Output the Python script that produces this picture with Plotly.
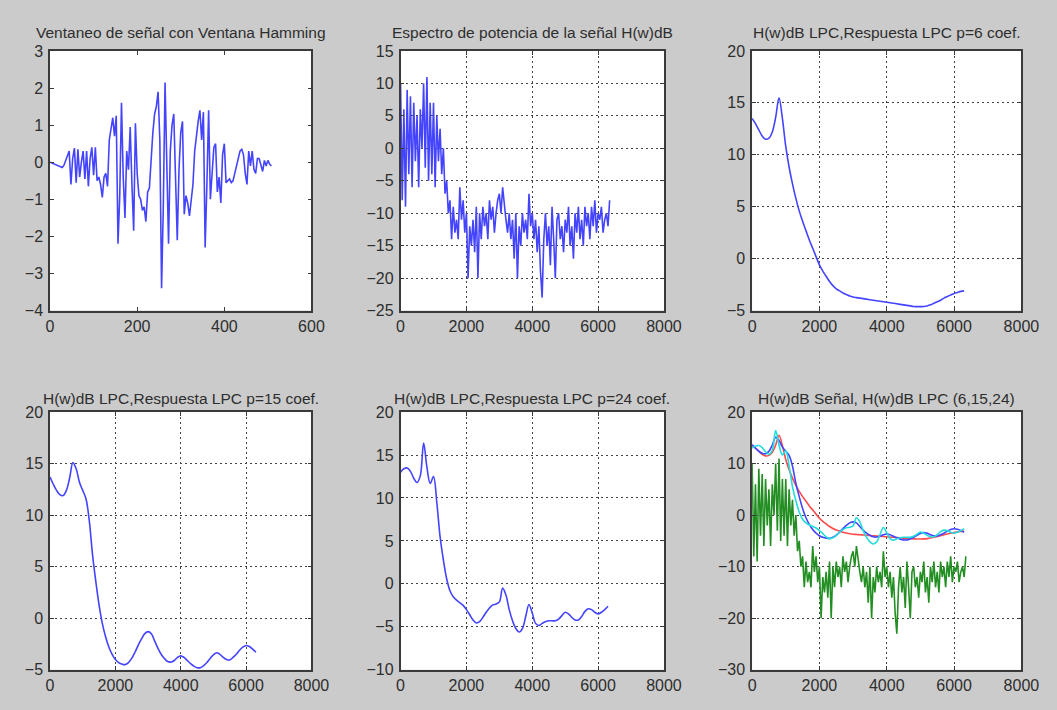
import plotly.graph_objects as go

# ---------------- data ----------------
# windowed signal (sample index step 4)
signal_step = 4
signal_vals = [
    0.0, -0.02, -0.03, -0.05, -0.08, -0.1, -0.12, -0.14, -0.08, 0.05, 0.2, 0.3, -0.6, 0.1, 0.38, -0.55,
    0.35, -0.4, 0.0, 0.3, -0.45, 0.3, -0.65, 0.1, 0.4, -0.35, 0.4, -0.5, -0.4, -0.6, -0.95, -0.4,
    -0.3, -0.65, 0.6, 0.9, 1.2, 0.7, 1.25, -2.2, -0.9, 1.6, -0.4, -1.5, 0.3, -0.2, 0.95, -0.6,
    -1.85, 1.05, -0.3, -0.9, -1.0, -1.3, -1.2, -1.6, -0.8, -0.7, 0.2, 0.8, 1.3, 1.5, 1.9, 0.6,
    -3.4, -1.2, 2.15, -0.5, -2.2, 0.3, 1.0, 1.3, -0.4, -2.1, -0.2, 0.8, 1.1, -1.4, -0.9, -1.1,
    -1.45, -1.0, -0.6, 0.3, 0.8, 1.1, 1.4, 0.6, 1.35, -2.3, -0.6, 1.4, -1.0, -0.3, 0.4, 0.5,
    -0.8, -0.4, -1.1, 0.2, 0.5, -0.55, -0.5, -0.45, -0.55, -0.5, -0.3, -0.1, 0.1, 0.3, 0.35, 0.2,
    -0.3, -0.6, 0.3, -0.1, 0.3, -0.2, -0.3, 0.1, 0.1, -0.1, -0.25, 0.05, -0.1, 0.05, -0.05, -0.1,
]

# power spectrum in dB (frequency step 50 Hz)
spec_step = 50
spectrum_db = [
    10, -8, 6, -9, 9, -4, 8, -6, 7, -2, 5, -6, 6, 0, 10, -3,
    11, -5, 7, -4, 7, -6, 5, -2, 3, -4, 0, -7, -5, -10, -8, -14,
    -9, -13, -11, -14, -6, -11, -8, -13, -10, -20, -12, -15, -11, -16, -9, -20,
    -10, -14, -9, -12, -10, -14, -8, -11, -9, -13, -10, -8, -7, -10, -6, -9,
    -11, -13, -10, -14, -11, -17, -10, -20, -12, -15, -10, -13, -11, -14, -7, -12,
    -10, -14, -11, -16, -12, -19, -23, -14, -10, -15, -12, -18, -9, -14, -20, -11,
    -10, -14, -12, -16, -11, -13, -9, -15, -12, -17, -10, -13, -9, -14, -11, -15,
    -9, -12, -10, -14, -9, -12, -8, -13, -10, -11, -9, -13, -11, -10, -12, -8,
]

# LPC responses in dB (frequency step 100 Hz)
lpc_step = 100
lpc_p6 = [
    13.5, 13.0, 12.4, 11.8, 11.5, 11.6, 12.2, 13.6, 15.5, 13.5, 10.8, 8.8, 7.2, 5.8, 4.6, 3.6,
    2.7, 1.8, 1.0, 0.2, -0.6, -1.2, -1.7, -2.2, -2.6, -2.9, -3.1, -3.3, -3.45, -3.6, -3.7, -3.75,
    -3.8, -3.85, -3.9, -3.95, -4.0, -4.05, -4.1, -4.15, -4.2, -4.25, -4.3, -4.35, -4.4, -4.45, -4.5, -4.55,
    -4.6, -4.62, -4.62, -4.6, -4.55, -4.45, -4.3, -4.15, -4.0, -3.8, -3.65, -3.5, -3.35, -3.25, -3.15, -3.1,
]
lpc_p15 = [
    13.7, 13.0, 12.4, 12.0, 11.9, 12.4, 13.6, 15.1, 14.5, 13.2, 12.4, 11.6, 9.5, 6.2, 3.6, 1.3,
    -0.5, -1.8, -2.8, -3.5, -4.0, -4.3, -4.45, -4.5, -4.3, -3.9, -3.3, -2.6, -2.0, -1.5, -1.3, -1.5,
    -2.2, -2.9, -3.5, -3.9, -4.2, -4.25, -4.1, -3.8, -3.65, -3.8, -4.1, -4.4, -4.65, -4.8, -4.8, -4.6,
    -4.3, -3.9, -3.55, -3.35, -3.5, -3.8, -4.0, -4.05, -3.8, -3.5, -3.1, -2.8, -2.65, -2.75, -3.0, -3.3,
]
lpc_p24 = [
    13.0, 13.4, 13.5, 13.1, 12.3, 11.8, 12.6, 16.4, 13.6, 11.7, 12.5, 9.5, 5.5, 2.8, 0.6, -0.8,
    -1.5, -1.9, -2.2, -2.5, -3.0, -3.6, -4.2, -4.55, -4.4, -3.9, -3.3, -2.8, -2.45, -2.35, -2.1, -0.5,
    -1.3, -3.0, -4.3, -5.2, -5.6, -5.2, -3.8, -2.4, -3.4, -4.6, -4.85, -4.6, -4.4, -4.3, -4.3, -4.3,
    -4.1, -3.7, -3.3, -3.5, -3.9, -4.2, -4.2, -3.8, -3.2, -2.9, -3.0, -3.3, -3.5, -3.3, -3.0, -2.6,
]

titles = [
    "Ventaneo de señal con Ventana Hamming",
    "Espectro de potencia de la señal H(w)dB",
    "H(w)dB LPC,Respuesta LPC p=6 coef.",
    "H(w)dB LPC,Respuesta LPC p=15 coef.",
    "H(w)dB LPC,Respuesta LPC p=24 coef.",
    "H(w)dB Señal, H(w)dB LPC (6,15,24)",
]

signal_x = [i * signal_step for i in range(len(signal_vals))]
spec_x = [i * spec_step for i in range(len(spectrum_db))]
lpc_x = [i * lpc_step for i in range(len(lpc_p6))]

# ---------------- layout geometry ----------------
W, H = 1057, 710
cols_px = [(47, 314), (405, 674), (764, 1039)]
rows_px = [(44, 310), (414, 678)]
title_y_px = [25, 400]

BLUE = "#4444ff"
TXT = "#2e2e2e"
FONT = "Liberation Sans, Arial, sans-serif"

fig = go.Figure()

def add(trace, k):
    sfx = "" if k == 1 else str(k)
    trace.update(xaxis="x" + sfx, yaxis="y" + sfx)
    fig.add_trace(trace)

lw = 1.6
add(go.Scatter(x=signal_x, y=signal_vals, mode="lines", line=dict(color=BLUE, width=lw)), 1)
add(go.Scatter(x=spec_x, y=spectrum_db, mode="lines", line=dict(color=BLUE, width=lw)), 2)
add(go.Scatter(x=lpc_x, y=lpc_p6, mode="lines", line=dict(color=BLUE, width=lw, shape="spline")), 3)
add(go.Scatter(x=lpc_x, y=lpc_p15, mode="lines", line=dict(color=BLUE, width=lw, shape="spline")), 4)
add(go.Scatter(x=lpc_x, y=lpc_p24, mode="lines", line=dict(color=BLUE, width=lw, shape="spline")), 5)
add(go.Scatter(x=spec_x, y=spectrum_db, mode="lines", line=dict(color="#238f23", width=lw)), 6)
add(go.Scatter(x=lpc_x, y=lpc_p6, mode="lines", line=dict(color="#ff4a4a", width=lw, shape="spline")), 6)
add(go.Scatter(x=lpc_x, y=lpc_p15, mode="lines", line=dict(color=BLUE, width=lw, shape="spline")), 6)
add(go.Scatter(x=lpc_x, y=lpc_p24, mode="lines", line=dict(color="#22dcdc", width=lw, shape="spline")), 6)

xranges = [(0, 600, 200), (0, 8000, 2000), (0, 8000, 2000), (0, 8000, 2000), (0, 8000, 2000), (0, 8000, 2000)]
yranges = [(-4, 3, 1), (-25, 15, 5), (-5, 20, 5), (-5, 20, 5), (-10, 20, 5), (-30, 20, 10)]
grid_on = [False, True, True, True, True, True]

layout = dict(
    width=W, height=H, margin=dict(l=0, r=0, t=0, b=0),
    paper_bgcolor="#cbcbcb", plot_bgcolor="white", showlegend=False,
    font=dict(family=FONT, color=TXT),
)
annotations = []
for k in range(6):
    r, c = divmod(k, 3)
    x0, x1 = cols_px[c]
    y0, y1 = rows_px[r]
    sfx = "" if k == 0 else str(k + 1)
    common = dict(
        showline=True, linecolor="#3a3a3a", linewidth=1.5, mirror="ticks",
        ticks="inside", ticklen=4, tickcolor="#3a3a3a", tickwidth=1,
        tickfont=dict(size=16, family=FONT, color=TXT),
        showgrid=grid_on[k], gridcolor="#444444", gridwidth=1, griddash="2px,3px",
        zeroline=False, fixedrange=True,
    )
    xa, xb, xd = xranges[k]
    ya, yb, yd = yranges[k]
    layout["xaxis" + sfx] = dict(common, domain=[x0 / W, x1 / W], range=[xa, xb], dtick=xd, tick0=0,
                                 anchor="y" + sfx)
    layout["yaxis" + sfx] = dict(common, domain=[1 - y1 / H, 1 - y0 / H], range=[ya, yb], dtick=yd, tick0=0,
                                 anchor="x" + sfx, ticklabelstandoff=2)
    annotations.append(dict(
        text=titles[k], xref="paper", yref="paper", x=(x0 + x1) / 2 / W, y=1 - title_y_px[r] / H,
        xanchor="center", yanchor="middle", showarrow=False,
        font=dict(size=15.5, family=FONT, color=TXT),
    ))
layout["annotations"] = annotations
fig.update_layout(**layout)

fig.write_html("out.html")
